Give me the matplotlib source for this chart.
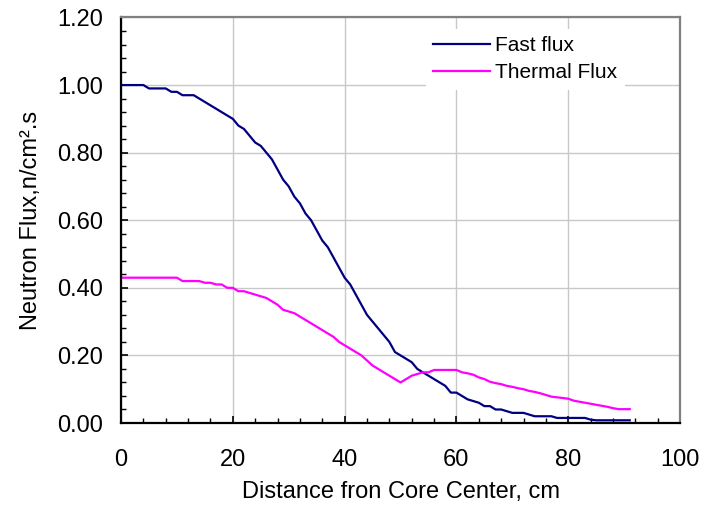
"""
Perfil radial do fluxo de neutrons (rapido e termico) a partir do centro do nucleo.
Saida: out.png
"""

import matplotlib
matplotlib.use("Agg")
import matplotlib.pyplot as plt
from matplotlib.ticker import MultipleLocator, FormatStrFormatter


# ------------------------------------------------------------
# Dados (passo de 1 cm)
# ------------------------------------------------------------
distance_cm = list(range(0, 92))

fast_flux = [
    1.00, 1.00, 1.00, 1.00, 1.00, 0.99, 0.99, 0.99, 0.99, 0.98,
    0.98, 0.97, 0.97, 0.97, 0.96, 0.95, 0.94, 0.93, 0.92, 0.91,
    0.90, 0.88, 0.87, 0.85, 0.83, 0.82, 0.80, 0.78, 0.75, 0.72,
    0.70, 0.67, 0.65, 0.62, 0.60, 0.57, 0.54, 0.52, 0.49, 0.46,
    0.43, 0.41, 0.38, 0.35, 0.32, 0.30, 0.28, 0.26, 0.24, 0.21,
    0.20, 0.19, 0.18, 0.16, 0.15, 0.14, 0.13, 0.12, 0.11, 0.09,
    0.09, 0.08, 0.07, 0.065, 0.06, 0.05, 0.05, 0.04, 0.04, 0.035,
    0.03, 0.03, 0.03, 0.025, 0.02, 0.02, 0.02, 0.02, 0.015, 0.015,
    0.015, 0.015, 0.015, 0.015, 0.01, 0.008, 0.008, 0.008, 0.008, 0.008,
    0.008, 0.008,
]

thermal_flux = [
    0.43, 0.43, 0.43, 0.43, 0.43, 0.43, 0.43, 0.43, 0.43, 0.43,
    0.43, 0.42, 0.42, 0.42, 0.42, 0.415, 0.415, 0.41, 0.41, 0.40,
    0.40, 0.39, 0.39, 0.385, 0.38, 0.375, 0.37, 0.36, 0.35, 0.335,
    0.33, 0.325, 0.315, 0.305, 0.295, 0.285, 0.275, 0.265, 0.255, 0.24,
    0.23, 0.22, 0.21, 0.20, 0.185, 0.17, 0.16, 0.15, 0.14, 0.13,
    0.12, 0.13, 0.14, 0.145, 0.15, 0.15, 0.157, 0.157, 0.157, 0.157,
    0.157, 0.15, 0.147, 0.143, 0.135, 0.13, 0.122, 0.118, 0.115, 0.11,
    0.107, 0.103, 0.10, 0.095, 0.092, 0.088, 0.083, 0.078, 0.076, 0.074,
    0.072, 0.066, 0.063, 0.06, 0.057, 0.054, 0.051, 0.048, 0.044, 0.041,
    0.041, 0.041,
]

x_ticks = [0, 20, 40, 60, 80, 100]
y_ticks = [0.0, 0.2, 0.4, 0.6, 0.8, 1.0, 1.2]


# ------------------------------------------------------------
# Grafico
# ------------------------------------------------------------
def plot_flux():
    plt.rcParams["font.family"] = ["Liberation Sans", "DejaVu Sans"]

    fig = plt.figure(figsize=(7.02, 5.08), dpi=100)
    ax = fig.add_axes([0.1724, 0.1673, 0.7963, 0.7983])

    ax.plot(distance_cm, fast_flux, color="#000080", lw=1.6, label="Fast flux")
    ax.plot(distance_cm, thermal_flux, color="#FF00FF", lw=1.6, label="Thermal Flux")

    ax.set_xlim(0, 100)
    ax.set_ylim(0, 1.2)
    ax.set_xticks(x_ticks)
    ax.set_yticks(y_ticks)
    ax.xaxis.set_minor_locator(MultipleLocator(4))
    ax.yaxis.set_minor_locator(MultipleLocator(0.04))
    ax.yaxis.set_major_formatter(FormatStrFormatter("%.2f"))

    ax.grid(True, which="major", color="#c8c8c8", lw=1.0)
    ax.set_axisbelow(True)

    ax.tick_params(which="both", direction="in", labelsize=17, colors="black")
    ax.tick_params(which="major", length=5, width=1.2)
    ax.tick_params(which="minor", length=3.4, width=1.0)
    ax.tick_params(axis="x", which="both", pad=19, top=False)
    ax.tick_params(axis="y", which="both", pad=13, right=False)

    for side in ("left", "bottom"):
        ax.spines[side].set_color("black")
        ax.spines[side].set_linewidth(1.6)
    for side in ("top", "right"):
        ax.spines[side].set_color("#808080")
        ax.spines[side].set_linewidth(1.6)

    ax.set_xlabel("Distance fron Core Center, cm", fontsize=17, labelpad=7)
    ax.set_ylabel("Neutron Flux,n/cm².s", fontsize=17, labelpad=11)

    leg = ax.legend(loc="upper left", bbox_to_anchor=(0.545, 0.972),
                    fontsize=15, frameon=True, fancybox=False,
                    handlelength=2.75, handletextpad=0.25, labelspacing=0.4,
                    borderpad=0.35, borderaxespad=0)
    leg.get_frame().set_facecolor("white")
    leg.get_frame().set_edgecolor("none")
    leg.get_frame().set_alpha(1)

    fig.savefig("out.png", dpi=100)


if __name__ == "__main__":
    plot_flux()
